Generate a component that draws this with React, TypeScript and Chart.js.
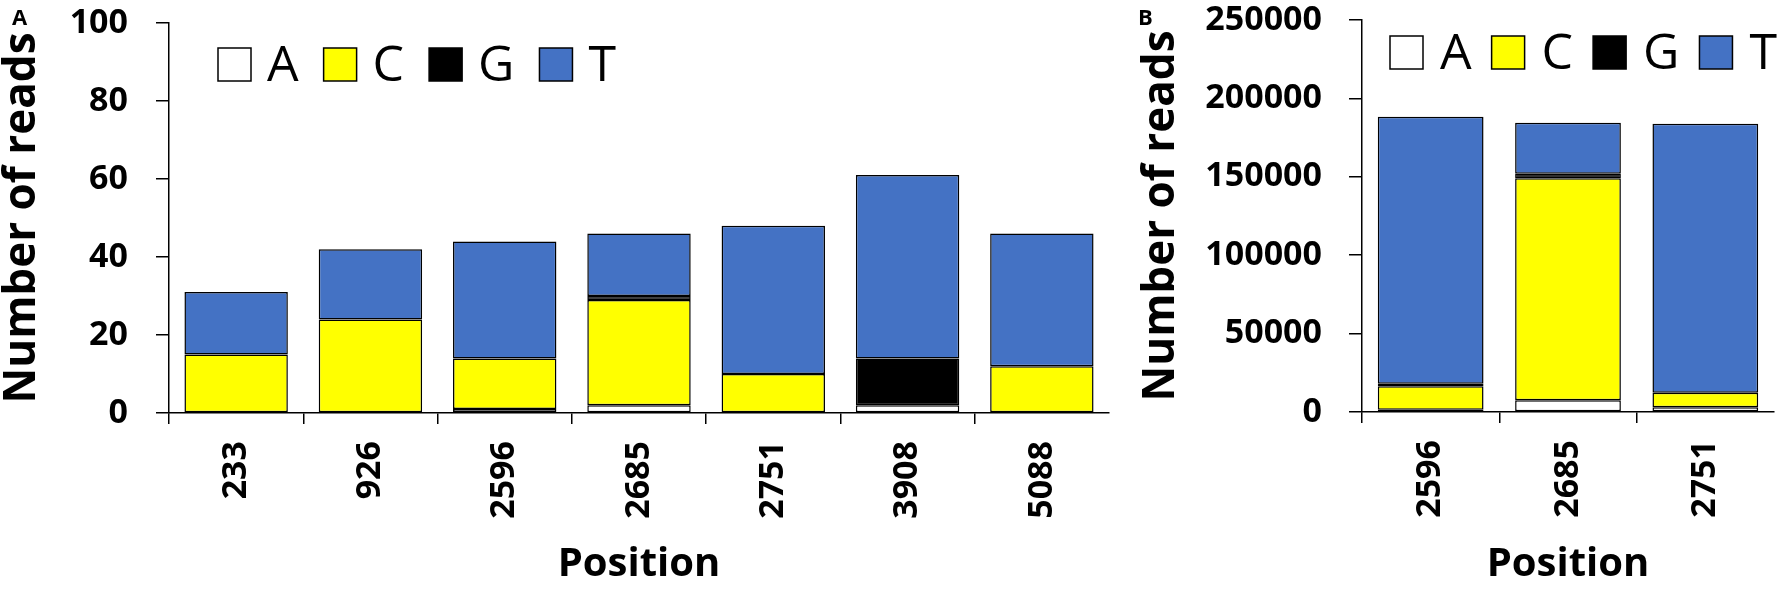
import React, { useEffect, useRef } from "react";
import { Chart, ChartConfiguration, registerables } from "chart.js";

Chart.register(...registerables);

const FONT = '"Open Sans", "DejaVu Sans", sans-serif';

const baseLabels = ["A", "C", "G", "T"];
const baseColors = ["#ffffff", "#ffff00", "#000000", "#4472c4"];

// panel A
const positionsA = ["233", "926", "2596", "2685", "2751", "3908", "5088"];
const readsA_A = [0, 0, 1, 2, 0, 2, 0];
const readsA_C = [15, 24, 13, 27, 10, 0, 12];
const readsA_G = [0, 0, 0, 1, 0, 12, 0];
const readsA_T = [16, 18, 30, 16, 38, 47, 34];
const yMaxA = 100;
const yStepA = 20;

// panel B
const positionsB = ["2596", "2685", "2751"];
const readsB_A = [1500, 7500, 3000];
const readsB_C = [15000, 141500, 9300];
const readsB_G = [1500, 3000, 0];
const readsB_T = [170300, 32500, 171600];
const yMaxB = 250000;
const yStepB = 50000;

const boxLegend = {
  id: "boxLegend",
  afterDraw(chart: any, _args: any, opts: any) {
    const { ctx, chartArea } = chart;
    ctx.save();
    ctx.font = `${opts.fontSize}px ${FONT}`;
    ctx.textBaseline = "alphabetic";
    let x = chartArea.left + opts.offsetX;
    const y = chartArea.top + opts.offsetY;
    chart.data.datasets.forEach((ds: any) => {
      ctx.fillStyle = ds.backgroundColor;
      ctx.fillRect(x, y, opts.box, opts.box);
      ctx.strokeStyle = "#000";
      ctx.lineWidth = 1.5;
      ctx.strokeRect(x, y, opts.box, opts.box);
      x += opts.box + opts.gap;
      ctx.fillStyle = "#000";
      ctx.fillText(ds.label, x, y + opts.box);
      x += ctx.measureText(ds.label).width + opts.spacing;
    });
    ctx.restore();
  },
};

interface PanelProps {
  labels: string[];
  series: number[][];
  yMax: number;
  yStep: number;
  width: number;
  height: number;
  yWidth: number;
  xHeight: number;
  padTop: number;
  padRight: number;
  yTitlePad: number;
  legendX: number;
  legendY: number;
  legendGap: number;
  legendSpacing: number;
  tickPad: number;
}

const ReadsPanel: React.FC<PanelProps> = (p) => {
  const ref = useRef<HTMLCanvasElement | null>(null);

  useEffect(() => {
    if (!ref.current) return;
    const config: ChartConfiguration<"bar"> = {
      type: "bar",
      data: {
        labels: p.labels,
        datasets: baseLabels.map((b, i) => ({
          label: b,
          data: p.series[i],
          backgroundColor: baseColors[i],
          borderColor: "#000",
          borderWidth: 1.5,
          borderSkipped: false,
          barPercentage: 0.77,
          categoryPercentage: 1,
        })),
      },
      options: {
        animation: false,
        responsive: false,
        events: [],
        layout: { padding: { top: p.padTop, right: p.padRight, left: 0, bottom: 0 } },
        plugins: {
          legend: { display: false },
          tooltip: { enabled: false },
          boxLegend: {
            offsetX: p.legendX,
            offsetY: p.legendY,
            box: 33,
            gap: p.legendGap,
            spacing: p.legendSpacing,
            fontSize: 50,
          },
        } as any,
        scales: {
          x: {
            stacked: true,
            afterFit: (s: any) => {
              s.height = p.xHeight;
              s.paddingLeft = 0;
              s.paddingRight = 0;
            },
            grid: {
              offset: true,
              drawOnChartArea: false,
              drawTicks: true,
              tickLength: 11,
              lineWidth: 1.5,
              color: (c: any) => (c.type === "tick" ? "#000" : "rgba(0,0,0,0)"),
            },
            border: { display: true, color: "#000", width: 1.5 },
            ticks: {
              autoSkip: false,
              maxRotation: 90,
              minRotation: 90,
              padding: 17,
              color: "#000",
              font: { family: FONT, size: 34, weight: "bold" },
            },
            title: {
              display: true,
              text: "Position",
              color: "#000",
              font: { family: FONT, size: 40, weight: "bold", lineHeight: 1 },
              padding: { top: 0, bottom: 6 },
            },
          },
          y: {
            stacked: true,
            min: 0,
            max: p.yMax,
            afterFit: (s: any) => {
              s.width = p.yWidth;
              s.paddingTop = 0;
              s.paddingBottom = 0;
            },
            grid: {
              drawOnChartArea: false,
              drawTicks: true,
              tickLength: 13,
              lineWidth: 1.5,
              color: "#000",
            },
            border: { display: true, color: "#000", width: 1.5 },
            ticks: {
              stepSize: p.yStep,
              padding: p.tickPad,
              color: "#000",
              font: { family: FONT, size: 34, weight: "bold" },
              callback: (v: any) => String(v),
            },
            title: {
              display: true,
              text: "Number of reads",
              color: "#000",
              font: { family: FONT, size: 44, weight: "bold", lineHeight: 1 },
              padding: { top: p.yTitlePad, bottom: 0 },
            },
          },
        },
      },
      plugins: [boxLegend],
    };
    const chart = new Chart(ref.current, config);
    return () => {
      chart.destroy();
    };
  }, [p]);

  return (
    <canvas
      ref={ref}
      width={p.width}
      height={p.height}
      style={{ width: p.width, height: p.height, display: "block" }}
    ></canvas>
  );
};

const panelLetter: React.CSSProperties = {
  position: "absolute",
  top: 1,
  fontFamily: FONT,
  fontWeight: "bold",
  fontSize: 22,
  color: "#000",
};

const propsA: PanelProps = {
  labels: positionsA,
  series: [readsA_A, readsA_C, readsA_G, readsA_T],
  yMax: yMaxA,
  yStep: yStepA,
  width: 1120,
  height: 591,
  yWidth: 169,
  xHeight: 178,
  padTop: 23,
  padRight: 11,
  yTitlePad: 0,
  legendX: 49,
  legendY: 25,
  legendGap: 16,
  legendSpacing: 25,
  tickPad: 28,
};

const propsB: PanelProps = {
  labels: positionsB,
  series: [readsB_A, readsB_C, readsB_G, readsB_T],
  yMax: yMaxB,
  yStep: yStepB,
  width: 657,
  height: 591,
  yWidth: 242,
  xHeight: 179,
  padTop: 20,
  padRight: 3,
  yTitlePad: 19,
  legendX: 28,
  legendY: 16,
  legendGap: 17,
  legendSpacing: 20,
  tickPad: 27,
};

export default function App() {
  return (
    <div
      style={{
        position: "fixed",
        left: 0,
        top: 0,
        width: 1777,
        height: 591,
        background: "#fff",
      }}
    >
      <div style={{ position: "absolute", left: 0, top: 0 }}>
        <ReadsPanel {...propsA} />
      </div>
      <div style={{ position: "absolute", left: 1120, top: 0 }}>
        <ReadsPanel {...propsB} />
      </div>
      <div style={{ ...panelLetter, left: 12 }}>A</div>
      <div style={{ ...panelLetter, left: 1138 }}>B</div>
    </div>
  );
}
